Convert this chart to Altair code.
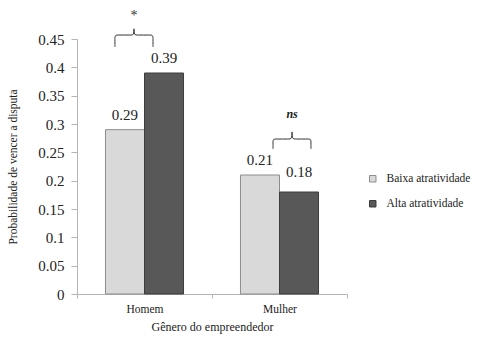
import altair as alt
import pandas as pd

# ---------------- data ----------------
genders = ["Homem", "Mulher"]
series = ["Baixa atratividade", "Alta atratividade"]
baixa_values = [0.29, 0.21]
alta_values = [0.39, 0.18]
y_ticks = [0, 0.05, 0.1, 0.15, 0.2, 0.25, 0.3, 0.35, 0.4, 0.45]

# significance annotations (x in category units: Homem spans 0..1, Mulher 1..2)
sig_labels = ["*", "ns"]
brace_left = [0.281, 1.452]
brace_right = [0.563, 1.733]
brace_mid = [0.422, 1.593]
brace_end_y = [0.436, 0.256]
brace_bar_y = [0.457, 0.2735]
brace_peak_y = [0.468, 0.286]
sig_y = [0.49, 0.318]

FONT = "Liberation Serif"
LIGHT, DARK = "#d9d9d9", "#585858"
LIGHT_S, DARK_S = "#8c8c8c", "#3c3c3c"

rows = []
for g, b, a in zip(genders, baixa_values, alta_values):
    rows.append({"gender": g, "series": series[0], "value": b})
    rows.append({"gender": g, "series": series[1], "value": a})
df = pd.DataFrame(rows)

# brace polylines (smoothed with basis interpolation)
brows = []
for k in range(len(sig_labels)):
    x0, x1, xc = brace_left[k], brace_right[k], brace_mid[k]
    yb, yh, yp = brace_end_y[k], brace_bar_y[k], brace_peak_y[k]
    e = 0.025
    d = (yh - yb) * 0.35
    pts = [(x0, yb)] * 3 + [(x0, yh - d), (x0, yh), (x0 + e, yh), (xc - e, yh), (xc, yh)] \
        + [(xc, yp)] * 3 + [(xc, yh), (xc + e, yh), (x1 - e, yh), (x1, yh), (x1, yh - d)] + [(x1, yb)] * 3
    for i, (px, py) in enumerate(pts):
        brows.append({"brace": sig_labels[k], "i": i, "x": px, "y": py})
bdf = pd.DataFrame(brows)
sdf = pd.DataFrame({"label": sig_labels, "x": brace_mid, "y": sig_y})

yscale = alt.Scale(domain=[0, 0.45], nice=False, zero=True)
y_axis = alt.Axis(title="Probabilidade de vencer a disputa", values=y_ticks,
                  labelExpr="format(datum.value, '.2~f')",
                  labelFontSize=15, tickSize=6, labelPadding=7,
                  titleFontSize=11.5, titlePadding=19)

base = alt.Chart(df).encode(
    x=alt.X("gender:N", sort=genders,
            scale=alt.Scale(paddingInner=0, paddingOuter=0),
            axis=alt.Axis(title="Gênero do empreendedor", labelAngle=0, tickBand="extent",
                          labelFontSize=11.5, tickSize=4, labelPadding=5,
                          titleFontSize=12, titlePadding=7)),
    xOffset=alt.XOffset("series:N", sort=series,
                        scale=alt.Scale(domain=series, paddingInner=0, paddingOuter=0.73)),
    y=alt.Y("value:Q", scale=yscale, axis=y_axis),
)

bars = base.mark_bar(strokeWidth=1).encode(
    fill=alt.Fill("series:N", sort=series,
                  scale=alt.Scale(domain=series, range=[LIGHT, DARK]),
                  legend=alt.Legend(title=None, orient="none", legendX=290, legendY=134,
                                    padding=0, symbolType="square", symbolSize=42,
                                    symbolStrokeColor="#7f7f7f", symbolStrokeWidth=1,
                                    labelFontSize=11.5, labelOffset=8, rowPadding=12,
                                    labelFont=FONT, labelColor="#222")),
    stroke=alt.Stroke("series:N", scale=alt.Scale(domain=series, range=[LIGHT_S, DARK_S]),
                      legend=None),
)

is_offset = "datum.gender == 'Mulher' && datum.series == 'Alta atratividade'"
labels_main = base.transform_filter("!(" + is_offset + ")").mark_text(
    baseline="bottom", dy=-7, fontSize=15, font=FONT, color="#222"
).encode(text=alt.Text("value:Q", format=".2f"))
labels_off = base.transform_filter(is_offset).mark_text(
    baseline="bottom", dy=-12, fontSize=15, font=FONT, color="#222"
).encode(text=alt.Text("value:Q", format=".2f"))

main = alt.layer(bars, labels_main, labels_off)

xq = alt.Scale(domain=[0, 2], nice=False, zero=False)
braces = alt.Chart(bdf).mark_line(interpolate="basis", color="#333", strokeWidth=1).encode(
    x=alt.X("x:Q", scale=xq, axis=None),
    y=alt.Y("y:Q", scale=yscale, axis=y_axis),
    detail="brace:N",
    order="i:Q",
)
star = alt.Chart(sdf).transform_filter("datum.label == '*'").mark_text(
    font=FONT, fontSize=14, baseline="middle", color="#333"
).encode(x=alt.X("x:Q", scale=xq, axis=None), y=alt.Y("y:Q", scale=yscale, axis=y_axis),
         text="label:N")
ns = alt.Chart(sdf).transform_filter("datum.label == 'ns'").mark_text(
    font=FONT, fontSize=12, baseline="middle", fontStyle="italic", fontWeight="bold", color="#222"
).encode(x=alt.X("x:Q", scale=xq, axis=None), y=alt.Y("y:Q", scale=yscale, axis=y_axis),
         text="label:N")

annot = alt.layer(braces, star, ns)

chart = alt.layer(main, annot).resolve_scale(x="independent").properties(
    width=270, height=255,
    autosize=alt.AutoSizeParams(type="none"),
    padding={"left": 77, "top": 39, "right": 132, "bottom": 57},
    background="white",
).configure(font=FONT).configure_axis(
    labelFont=FONT, titleFont=FONT, grid=False,
    domainColor="#b5b5b5", tickColor="#b5b5b5",
    labelColor="#222", titleColor="#222", titleFontWeight="normal",
).configure_text(font=FONT).configure_legend(labelFont=FONT).configure_view(stroke=None)

chart.save("out.html", embed_options={"renderer": "svg", "actions": False})
